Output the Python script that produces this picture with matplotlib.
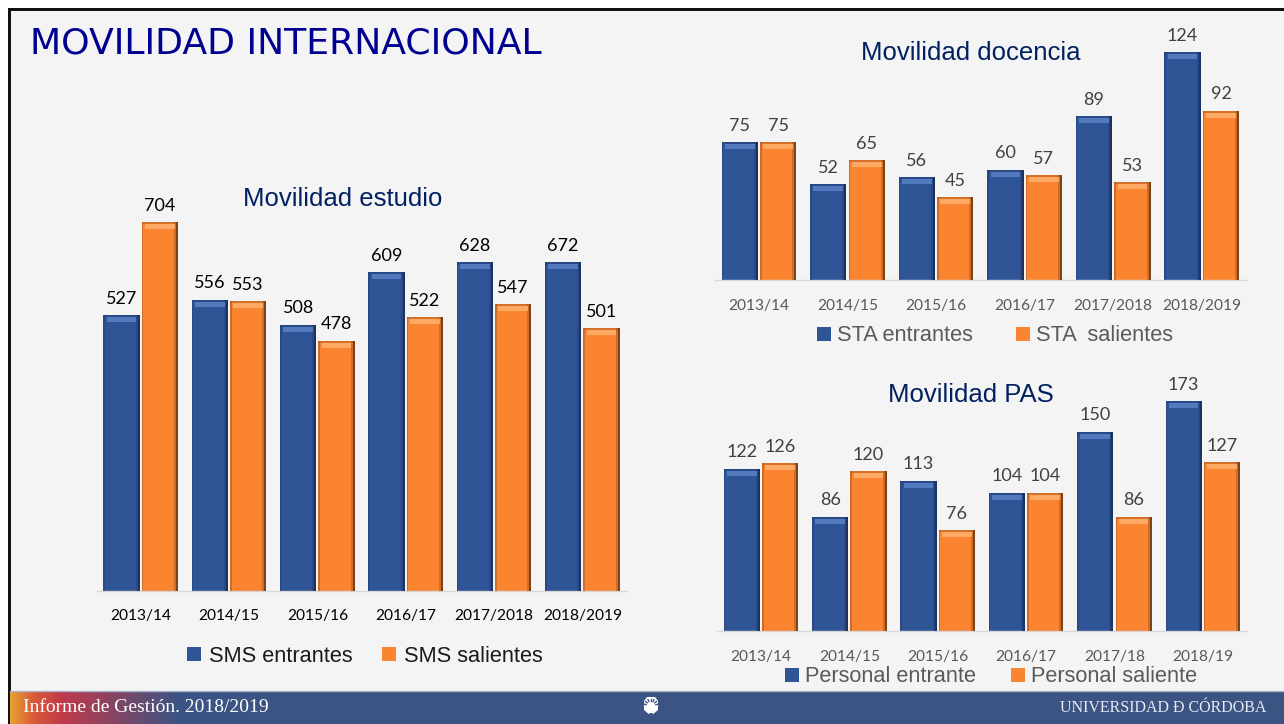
import numpy as np
import matplotlib
matplotlib.use('Agg')
import matplotlib.pyplot as plt
from matplotlib.patches import Rectangle, Polygon, Wedge
from matplotlib.colors import LinearSegmentedColormap

W, H = 1284, 724

# Movilidad estudio
cursos_est = ['2013/14', '2014/15', '2015/16', '2016/17', '2017/2018', '2018/2019']
sms_in = [527, 556, 508, 609, 628, 672]
sms_out = [704, 553, 478, 522, 547, 501]
# en el original la barra de 672 esta dibujada a la altura de 628
sms_in_alto = [527, 556, 508, 609, 628, 628]

# Movilidad docencia
cursos_doc = ['2013/14', '2014/15', '2015/16', '2016/17', '2017/2018', '2018/2019']
sta_in = [75, 52, 56, 60, 89, 124]
sta_out = [75, 65, 45, 57, 53, 92]

# Movilidad PAS
cursos_pas = ['2013/14', '2014/15', '2015/16', '2016/17', '2017/18', '2018/19']
pas_in = [122, 86, 113, 104, 150, 173]
pas_out = [126, 120, 76, 104, 86, 127]

AZUL = dict(main='#2f5597', light='#5a80c6', dark='#1c3360')
NARANJA = dict(main='#fb8431', light='#ffb16e', dark='#7d4418')

SANS = ['Liberation Sans']
NUM = ['Lato', 'DejaVu Sans']
SERIF = ['Liberation Serif', 'DejaVu Serif']

fig = plt.figure(figsize=(W / 100, H / 100), dpi=100, facecolor='white')


def px_axes(x0, x1, y_top, y_base, **kw):
    return fig.add_axes([x0 / W, 1 - y_base / H, (x1 - x0) / W, (y_base - y_top) / H], **kw)


# fondo, borde y pie de la diapositiva
bg = fig.add_axes([0, 0, 1, 1], zorder=0)
bg.axis('off')
bg.add_patch(Rectangle((8, 8), W, H, fc='#111111', ec='none'))
bg.add_patch(Rectangle((11, 11), W, H, fc='#f4f4f4', ec='none'))
cm = LinearSegmentedColormap.from_list('pie', [(0, '#e9a12f'), (0.1, '#d8583a'), (0.22, '#c03a4a'),
                                               (0.7, '#3b5484'), (1, '#3b5484')])
grad = np.linspace(0, 1, 256).reshape(1, -1)
bg.imshow(grad, cmap=cm, extent=[10, 250, 724, 691], aspect='auto', zorder=2)
bg.add_patch(Rectangle((250, 691), W, 33, fc='#3b5484', ec='none', zorder=2))
bg.plot([10, W], [691, 691], color='#a9b4c8', lw=1, zorder=3)
bg.set_xlim(0, W)
bg.set_ylim(H, 0)

# escudo del pie
bg.add_patch(Polygon([(644, 701), (647, 697), (655, 697), (658, 701), (658, 710), (651, 716), (644, 710)],
                     fc='white', ec='none', zorder=4))
for ang in np.radians(np.arange(195, 350, 25)):
    bg.plot([651 + 5 * np.cos(ang), 651 + 7 * np.cos(ang)], [706 + 5 * np.sin(ang), 706 + 7 * np.sin(ang)],
            color='#3b5484', lw=1, zorder=5)
bg.add_patch(Wedge((651, 716), 3, 200, 340, fc='#3b5484', ec='none', zorder=5))

fig.text(30 / W, 1 - 44 / H, 'MOVILIDAD INTERNACIONAL', color='#000090', fontsize=26.1,
         family=['DejaVu Sans'], va='center', ha='left')
fig.text(23 / W, 1 - 707 / H, 'Informe de Gestión. 2018/2019', color='white', fontsize=14,
         family=SERIF, va='center', ha='left')
fig.text(1266 / W, 1 - 708 / H, 'UNIVERSIDAD Ð CÓRDOBA', color='#e6eaf2', fontsize=11.5,
         family=SERIF, va='center', ha='right')


def bevel(ax, x, alto, w, c, px_unit, label):
    bars = ax.bar(x, alto, w, color=c['main'], label=label, zorder=2)
    u = 1 / px_unit
    xpx = w / 36  # ancho de un pixel aprox. en unidades de categoria
    ax.bar(x + w / 2 - 1 * xpx, alto, 2 * xpx, color=c['dark'], zorder=3)
    ax.bar(x + w / 2 - 3 * xpx, alto, 2 * xpx, color=c['dark'], alpha=0.35, zorder=3)
    ax.bar(x - w / 2 + 0.75 * xpx, alto, 1.5 * xpx, color=c['dark'], alpha=0.35, zorder=3)
    ax.bar(x, 5 * u, w * 0.82, bottom=np.array(alto) - 7 * u, color=c['light'], alpha=0.85, zorder=4)
    ax.bar(x, 2 * u, w, bottom=np.array(alto) - 2 * u, color=c['dark'], alpha=0.3, zorder=4)
    return bars


def panel(x0, x1, y_base, px_unit, ymax, cursos, a, b, a_alto, col_txt, col_tick, tick_y,
          nombres, ley_y, ley_x, ley_col, ley_sep, ley_pad):
    ax = px_axes(x0, x1, y_base - ymax * px_unit, y_base, zorder=1)
    ax.patch.set_alpha(0)
    x = np.arange(len(cursos))
    w = 0.41
    d = 0.217
    b1 = bevel(ax, x - d, a_alto, w, AZUL, px_unit, nombres[0])
    b2 = bevel(ax, x + d, b, w, NARANJA, px_unit, nombres[1])
    for xi, alto, v in zip(x - d, a_alto, a):
        ax.annotate(str(v), (xi, alto), xytext=(0, 6), textcoords='offset points', ha='center',
                    va='bottom', color=col_txt, fontsize=13, family=NUM, zorder=5)
    for xi, alto in zip(x + d, b):
        ax.annotate(str(alto), (xi, alto), xytext=(0, 6), textcoords='offset points', ha='center',
                    va='bottom', color=col_txt, fontsize=13, family=NUM, zorder=5)
    ax.set_xlim(-0.5, len(cursos) - 0.5)
    ax.set_ylim(0, ymax)
    ax.set_yticks([])
    ax.set_xticks(x)
    ax.set_xticklabels(cursos, color=col_tick, fontsize=11.2, family=NUM)
    ax.tick_params(axis='x', length=0, pad=(tick_y - y_base - 8) * 0.72 + 1.6)
    for s in ['top', 'left', 'right']:
        ax.spines[s].set_visible(False)
    ax.spines['bottom'].set_color('#d6d6d6')
    ax.spines['bottom'].set_linewidth(1)
    fig.legend([b1, b2], nombres, loc='center', bbox_to_anchor=(ley_x / W, 1 - ley_y / H), ncols=2,
               frameon=False, prop={'family': SANS, 'size': 15.7}, labelcolor=ley_col,
               handlelength=0.65, handleheight=0.65, handletextpad=ley_pad, columnspacing=ley_sep,
               borderpad=0, borderaxespad=0)
    return ax


panel(96.5, 626.5, 591, 0.524, 760, cursos_est, sms_in, sms_out, sms_in_alto, 'black', 'black', 615,
      ['SMS entrantes', 'SMS salientes'], 656, 365, '#1a1a1a', 1.33, 0.37)
panel(714.7, 1246, 280, 1.84, 135, cursos_doc, sta_in, sta_out, sta_in, '#404040', '#595959', 305,
      ['STA entrantes', 'STA  salientes'], 336, 995, '#5a5a5a', 2.0, 0.25)
panel(716.8, 1247, 631, 1.33, 185, cursos_pas, pas_in, pas_out, pas_in, '#404040', '#595959', 656,
      ['Personal entrante', 'Personal saliente'], 677, 991, '#5a5a5a', 1.6, 0.27)

fig.text(343 / W, 1 - 199 / H, 'Movilidad estudio', color='#002060', fontsize=18.5, family=SANS,
         ha='center', va='center', zorder=5)
fig.text(971 / W, 1 - 53 / H, 'Movilidad docencia', color='#002060', fontsize=18.5, family=SANS,
         ha='center', va='center', zorder=5)
fig.text(971 / W, 1 - 395 / H, 'Movilidad PAS', color='#002060', fontsize=18.5, family=SANS,
         ha='center', va='center', zorder=5)

fig.savefig('out.png', dpi=100, facecolor='white')
